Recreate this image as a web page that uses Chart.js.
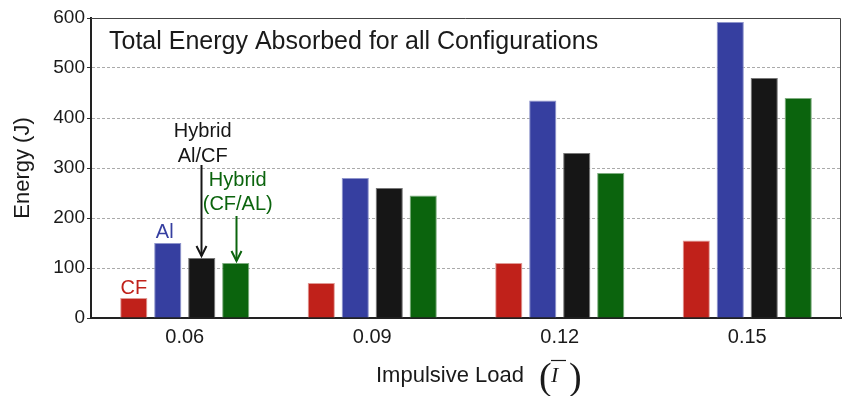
<!DOCTYPE html>
<html lang="en">
<head>
    <meta charset="UTF-8">
    <title>Total Energy Absorbed for all Configurations</title>
    <script src="https://cdn.jsdelivr.net/npm/chart.js"></script>
    <style>
        html, body { margin: 0; padding: 0; background: #fff; }
        #wrap { width: 843px; height: 396px; position: relative; }
    </style>
</head>
<body>
    <div id="wrap"><canvas id="energyChart"></canvas></div>

    <script>
        // data
        const categories = ['0.06', '0.09', '0.12', '0.15'];
        const cfEnergy = [40, 70, 110, 155];
        const alEnergy = [150, 280, 435, 592];
        const hybridAlCfEnergy = [120, 260, 330, 480];
        const hybridCfAlEnergy = [110, 245, 290, 440];
        const yTicks = [0, 100, 200, 300, 400, 500, 600];

        const FONT = "'Liberation Sans', Arial, Helvetica, sans-serif";
        const RED = '#c0211a', BLUE = '#363fa0', BLACK = '#161616', GREEN = '#0b640d';

        function arrow(ctx, x, y0, y1, color) {
            ctx.save();
            ctx.strokeStyle = color;
            ctx.lineWidth = 2;
            ctx.beginPath();
            ctx.moveTo(x, y0);
            ctx.lineTo(x, y1);
            ctx.stroke();
            ctx.beginPath();
            ctx.moveTo(x - 5, y1 - 10);
            ctx.lineTo(x, y1);
            ctx.lineTo(x + 5, y1 - 10);
            ctx.stroke();
            ctx.restore();
        }

        const decorations = {
            id: 'decorations',
            afterDraw(chart) {
                const ctx = chart.ctx;
                const a = chart.chartArea;
                ctx.save();

                // frame top/right
                ctx.strokeStyle = '#444';
                ctx.lineWidth = 1;
                ctx.beginPath();
                ctx.moveTo(a.left, a.top + 0.5);
                ctx.lineTo(a.right - 0.5, a.top + 0.5);
                ctx.lineTo(a.right - 0.5, a.bottom);
                ctx.stroke();

                // title inside plot
                ctx.fillStyle = '#1a1a1a';
                ctx.font = '25px ' + FONT;
                ctx.textAlign = 'left';
                ctx.textBaseline = 'alphabetic';
                ctx.fillText('Total Energy Absorbed for all Configurations', a.left + 18, a.top + 31);

                // labels above the first group
                const bar = i => chart.getDatasetMeta(i).data[0];
                ctx.font = '20px ' + FONT;
                ctx.textAlign = 'center';

                let b = bar(0);
                ctx.fillStyle = RED;
                ctx.fillText('CF', b.x, b.y - 4);

                b = bar(1);
                ctx.fillStyle = BLUE;
                ctx.fillText('Al', b.x - 3, b.y - 5);

                b = bar(2);
                ctx.fillStyle = BLACK;
                ctx.fillText('Hybrid', b.x + 1, b.y - 121);
                ctx.fillText('Al/CF', b.x + 1, b.y - 96);
                arrow(ctx, Math.round(b.x) - 0.5, b.y - 93, b.y - 2, BLACK);

                b = bar(3);
                ctx.fillStyle = GREEN;
                ctx.fillText('Hybrid', b.x + 2, b.y - 77);
                ctx.fillText('(CF/AL)', b.x + 2, b.y - 53);
                arrow(ctx, Math.round(b.x) + 0.5, b.y - 47, b.y - 2, GREEN);

                // x axis title with math symbol
                const baseY = 382;
                ctx.fillStyle = '#1a1a1a';
                ctx.font = '22px ' + FONT;
                ctx.textAlign = 'left';
                ctx.fillText('Impulsive Load', 376, baseY);
                ctx.font = '38px "Liberation Serif", "DejaVu Serif", serif';
                ctx.fillText('(', 539, baseY + 7);
                ctx.fillText(')', 569, baseY + 7);
                ctx.font = 'italic 22px "Liberation Serif", "DejaVu Serif", serif';
                ctx.fillText('I', 551, baseY);
                ctx.strokeStyle = '#1a1a1a';
                ctx.lineWidth = 1.2;
                ctx.beginPath();
                ctx.moveTo(551, 360.5);
                ctx.lineTo(566, 360.5);
                ctx.stroke();

                ctx.restore();
            }
        };

        new Chart(document.getElementById('energyChart'), {
            type: 'bar',
            data: {
                labels: categories,
                datasets: [
                    { label: 'CF', data: cfEnergy, backgroundColor: RED, borderColor: '#e09a95' },
                    { label: 'Al', data: alEnergy, backgroundColor: BLUE, borderColor: '#8f95cc' },
                    { label: 'Hybrid Al/CF', data: hybridAlCfEnergy, backgroundColor: BLACK, borderColor: '#777' },
                    { label: 'Hybrid (CF/AL)', data: hybridCfAlEnergy, backgroundColor: GREEN, borderColor: '#7fae80' }
                ].map(d => Object.assign(d, {
                    borderWidth: 1,
                    barPercentage: 0.8,
                    categoryPercentage: 0.725
                }))
            },
            options: {
                responsive: true,
                maintainAspectRatio: false,
                animation: false,
                layout: { padding: { top: 18, right: 2, left: 0, bottom: 0 } },
                plugins: {
                    legend: { display: false },
                    tooltip: { enabled: false }
                },
                scales: {
                    x: {
                        afterFit: s => { s.height = 78; },
                        grid: { display: false, drawTicks: false },
                        border: { display: true, color: '#222', width: 2 },
                        ticks: { color: '#1a1a1a', font: { family: FONT, size: 20 }, padding: 7 }
                    },
                    y: {
                        min: 0,
                        max: 600,
                        afterFit: s => { s.width = 91; },
                        afterBuildTicks: s => { s.ticks = yTicks.map(v => ({ value: v })); },
                        grid: {
                            color: c => (c.tick && (c.tick.value === 0 || c.tick.value === 600)) ? 'rgba(0,0,0,0)' : '#aaa',
                            lineWidth: 1,
                            tickLength: 4,
                            tickColor: '#333',
                            tickBorderDash: [1, 0]
                        },
                        border: { display: true, color: '#222', width: 2, dash: [3, 2] },
                        title: {
                            display: true,
                            text: 'Energy (J)',
                            color: '#1a1a1a',
                            font: { family: FONT, size: 22 },
                            padding: { top: 10, bottom: 0 }
                        },
                        ticks: {
                            color: '#1a1a1a',
                            font: { family: FONT, size: 19 },
                            padding: 2
                        }
                    }
                }
            },
            plugins: [decorations]
        });
    </script>
</body>
</html>
